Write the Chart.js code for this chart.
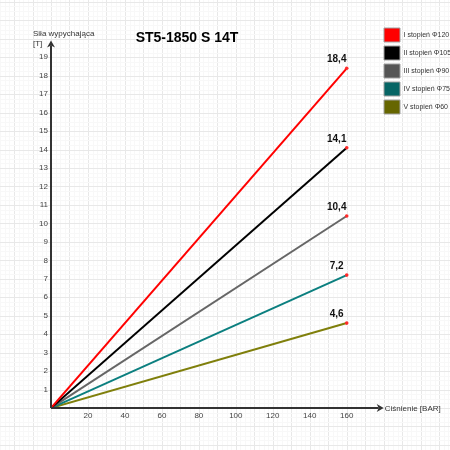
<!DOCTYPE html>
<html>
<head>
<meta charset="utf-8">
<script src="https://cdn.jsdelivr.net/npm/chart.js@4.4.0/dist/chart.umd.min.js"></script>
<style>
    body { margin: 0; background: #fff; }
    canvas { display: block; }
</style>
</head>
<body>
<canvas id="myChart" width="450" height="450"></canvas>
<script>
// dane
const pressure = [0, 160];
const stage1 = [0, 18.4];
const stage2 = [0, 14.1];
const stage3 = [0, 10.4];
const stage4 = [0, 7.2];
const stage5 = [0, 4.6];
const seriesNames = ['I stopień Φ120', 'II stopień Φ105', 'III stopień Φ90', 'IV stopień Φ75', 'V stopień Φ60'];
const lineColors = ['#ff0000', '#000000', '#666666', '#0b7f7f', '#7f7f0b'];
const boxColors = ['#ff0000', '#000000', '#555555', '#066565', '#666600'];
const xTicks = [20, 40, 60, 80, 100, 120, 140, 160];
const yTicks = [1, 2, 3, 4, 5, 6, 7, 8, 9, 10, 11, 12, 13, 14, 15, 16, 17, 18, 19];

const FONT = '"Liberation Sans", Arial, sans-serif';

function toPoints(values){
    return values.map((v, i) => ({x: pressure[i], y: v}));
}

// tlo z kratka jak w draw.io
const gridBackground = {
    id: 'gridBackground',
    beforeDraw(chart){
        const c = chart.ctx;
        const xs = chart.scales.x, ys = chart.scales.y;
        c.save();
        c.fillStyle = '#fff';
        c.fillRect(0, 0, chart.width, chart.height);
        c.lineWidth = 1;
        for (let v = -40; v <= 260; v += 2.5){
            const px = Math.round(xs.getPixelForValue(v)) + 0.5;
            c.strokeStyle = (v % 10 === 0) ? '#e8e8e8' : '#f8f8f8';
            c.beginPath(); c.moveTo(px, 0); c.lineTo(px, chart.height); c.stroke();
        }
        for (let v = -4; v <= 26; v += 0.25){
            const py = Math.round(ys.getPixelForValue(v)) + 0.5;
            c.strokeStyle = (v % 1 === 0) ? '#e8e8e8' : '#f8f8f8';
            c.beginPath(); c.moveTo(0, py); c.lineTo(chart.width, py); c.stroke();
        }
        c.restore();
    }
};

// osie ze strzalkami, tytul, opisy osi, wartosci na koncach linii
const decorations = {
    id: 'decorations',
    afterDatasetsDraw(chart){
        const c = chart.ctx;
        const xs = chart.scales.x, ys = chart.scales.y;
        const x0 = xs.getPixelForValue(0), y0 = ys.getPixelForValue(0);
        const xTip = xs.getPixelForValue(180), yTip = ys.getPixelForValue(19.9);
        c.save();
        c.strokeStyle = '#333';
        c.fillStyle = '#333';
        c.lineWidth = 2;
        c.beginPath(); c.moveTo(x0, y0); c.lineTo(x0, yTip + 5); c.stroke();
        c.beginPath(); c.moveTo(x0, y0); c.lineTo(xTip - 5, y0); c.stroke();
        c.beginPath(); c.moveTo(x0, yTip); c.lineTo(x0 - 4, yTip + 7); c.lineTo(x0, yTip + 5); c.lineTo(x0 + 4, yTip + 7); c.closePath(); c.fill();
        c.beginPath(); c.moveTo(xTip, y0); c.lineTo(xTip - 7, y0 - 4); c.lineTo(xTip - 5, y0); c.lineTo(xTip - 7, y0 + 4); c.closePath(); c.fill();

        c.fillStyle = '#333';
        c.font = '8px ' + FONT;
        c.textAlign = 'left';
        c.textBaseline = 'middle';
        c.fillText('Siła wypychająca', 33, 34);
        c.fillText('[T]', 33, 44);
        c.fillText('Ciśnienie [BAR]', xTip + 1, y0 + 1);

        c.fillStyle = '#000';
        c.font = 'bold 14px ' + FONT;
        c.textAlign = 'center';
        c.fillText('ST5-1850 S 14T', 187, 38);

        c.font = 'bold 10px ' + FONT;
        c.fillStyle = '#111';
        c.textBaseline = 'alphabetic';
        chart.data.datasets.forEach((ds, i) => {
            const meta = chart.getDatasetMeta(i);
            const pt = meta.data[meta.data.length - 1];
            const val = ds.data[ds.data.length - 1].y;
            c.fillText(String(val).replace('.', ','), pt.x - 10, pt.y - 6);
        });
        c.restore();
    }
};

function getChart(){
    const ctx = document.getElementById('myChart').getContext('2d');
    const series = [stage1, stage2, stage3, stage4, stage5];
    const myChart = new Chart(ctx, {
        type: 'line',
        data: {
            datasets: series.map((s, i) => ({
                label: seriesNames[i],
                data: toPoints(s),
                borderColor: lineColors[i],
                backgroundColor: boxColors[i],
                borderWidth: 2,
                fill: false,
                tension: 0,
                pointRadius: [0, 1.8],
                pointBackgroundColor: '#ff2a2a',
                pointBorderWidth: 0
            }))
        },
        options: {
            responsive: false,
            animation: false,
            layout: {
                padding: {top: 24, right: 0, bottom: 22, left: 0}
            },
            plugins: {
                tooltip: {enabled: false},
                legend: {
                    position: 'right',
                    align: 'start',
                    maxWidth: 70,
                    labels: {
                        boxWidth: 16,
                        boxHeight: 14,
                        padding: 4,
                        color: '#333',
                        font: {size: 7, family: FONT},
                        generateLabels(chart){
                            const items = Chart.defaults.plugins.legend.labels.generateLabels(chart);
                            return items.map(it => Object.assign(it, {strokeStyle: '#a0a0a0', lineWidth: 1, lineDash: []}));
                        }
                    }
                }
            },
            scales: {
                x: {
                    type: 'linear',
                    min: 0,
                    max: 178,
                    afterFit: s => { s.height = 20; },
                    grid: {display: false, drawTicks: false},
                    border: {display: false},
                    ticks: {
                        stepSize: 20,
                        padding: 3,
                        maxRotation: 0,
                        color: '#444',
                        font: {size: 8, family: FONT},
                        callback: v => xTicks.includes(v) ? v : ''
                    }
                },
                y: {
                    min: 0,
                    max: 20.8,
                    afterFit: s => { s.width = 51; },
                    grid: {display: false, drawTicks: false},
                    border: {display: false},
                    ticks: {
                        stepSize: 1,
                        padding: 3,
                        color: '#444',
                        font: {size: 8, family: FONT},
                        callback: v => yTicks.includes(v) ? v : ''
                    }
                }
            }
        },
        plugins: [gridBackground, decorations]
    });
}

window.addEventListener('load', getChart);
</script>
</body>
</html>
